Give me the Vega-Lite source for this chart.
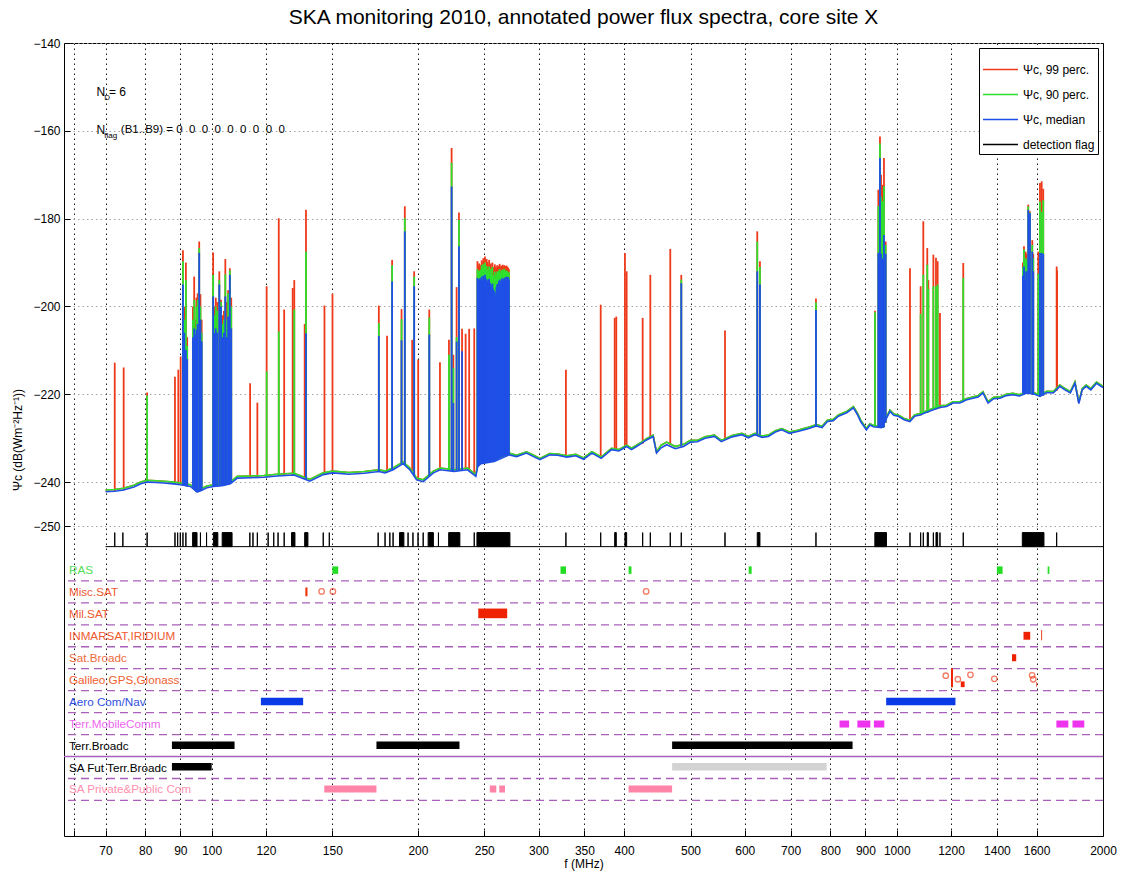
{
  "$schema": "https://vega.github.io/schema/vega-lite/v6.json",
  "width": 1039,
  "height": 793,
  "autosize": {"type": "none"},
  "padding": {"left": 64, "top": 43, "right": 22, "bottom": 36},
  "title": {"text": "SKA monitoring 2010, annotated power flux spectra, core site X", "fontSize": 21, "fontWeight": "normal", "font": "Liberation Sans", "color": "black", "offset": 9},
  "config": {
    "font": "Liberation Sans",
    "view": {"stroke": "black", "strokeWidth": 1},
    "axis": {"labelFont": "Liberation Sans", "labelFontSize": 12, "labelColor": "black", "titleFont": "Liberation Sans", "titleFontSize": 12, "titleFontWeight": "normal", "titleColor": "black", "tickColor": "black", "domain": false},
    "legend": {"orient": "top-right", "offset": 5, "padding": 3, "strokeColor": "black", "fillColor": "white", "symbolType": "stroke", "symbolSize": 1225, "symbolStrokeWidth": 1.5, "labelFontSize": 12, "labelFont": "Liberation Sans", "rowPadding": 0, "labelOffset": 4}
  },
  "datasets": {
    "base": [
      {"f": 70, "m": -242.2, "g": -241.8}, {"f": 72.2, "m": -242.1, "g": -241.7}, {"f": 74.4, "m": -241.8, "g": -241.4},
      {"f": 77.0, "m": -241.1, "g": -240.7}, {"f": 78.8, "m": -240.4, "g": -240.0}, {"f": 80.5, "m": -240.0, "g": -239.6},
      {"f": 83.0, "m": -240.1, "g": -239.7}, {"f": 85.1, "m": -240.2, "g": -239.8}, {"f": 88.0, "m": -240.4, "g": -240.0},
      {"f": 90.1, "m": -240.6, "g": -240.2}, {"f": 93.1, "m": -241.0, "g": -240.6}, {"f": 95.2, "m": -242.2, "g": -241.8},
      {"f": 96.2, "m": -242.0, "g": -241.6}, {"f": 98.4, "m": -241.3, "g": -240.9}, {"f": 100.6, "m": -241.0, "g": -240.6},
      {"f": 103.5, "m": -240.8, "g": -240.4}, {"f": 106.5, "m": -240.4, "g": -240.0}, {"f": 109.0, "m": -239.1, "g": -238.7},
      {"f": 114.0, "m": -239.0, "g": -238.6}, {"f": 119.2, "m": -238.9, "g": -238.5}, {"f": 124.7, "m": -238.6, "g": -238.2},
      {"f": 131.9, "m": -238.4, "g": -238.0}, {"f": 134.5, "m": -238.9, "g": -238.5}, {"f": 139.1, "m": -239.8, "g": -239.4},
      {"f": 145.5, "m": -238.3, "g": -237.9}, {"f": 150.3, "m": -237.9, "g": -237.5}, {"f": 158.6, "m": -238.2, "g": -237.8},
      {"f": 167.0, "m": -238.0, "g": -237.6}, {"f": 175.4, "m": -237.6, "g": -237.2}, {"f": 179.1, "m": -237.9, "g": -237.5},
      {"f": 184.0, "m": -237.2, "g": -236.8}, {"f": 190.3, "m": -235.8, "g": -235.4}, {"f": 194.7, "m": -237.2, "g": -236.8},
      {"f": 199.1, "m": -239.5, "g": -239.1}, {"f": 203.6, "m": -239.9, "g": -239.5}, {"f": 210.7, "m": -237.9, "g": -237.5},
      {"f": 215.6, "m": -237.2, "g": -236.8}, {"f": 225.8, "m": -237.6, "g": -237.2}, {"f": 236.3, "m": -237.2, "g": -236.8},
      {"f": 243.0, "m": -238.7, "g": -238.3}, {"f": 244.5, "m": -236.5, "g": -236.1}, {"f": 247.1, "m": -235.8, "g": -235.4},
      {"f": 258.5, "m": -235.3, "g": -234.9}, {"f": 271.9, "m": -233.8, "g": -233.4}, {"f": 278.7, "m": -234.2, "g": -233.9},
      {"f": 288.1, "m": -233.4, "g": -233.1}, {"f": 295.0, "m": -234.2, "g": -233.9}, {"f": 301.4, "m": -234.9, "g": -234.6},
      {"f": 311.6, "m": -233.8, "g": -233.5}, {"f": 320.0, "m": -233.9, "g": -233.6}, {"f": 330.0, "m": -234.3, "g": -234.0},
      {"f": 340.0, "m": -234.0, "g": -233.7}, {"f": 349.0, "m": -234.8, "g": -234.5}, {"f": 359.0, "m": -233.4, "g": -233.1},
      {"f": 370.4, "m": -234.6, "g": -234.3}, {"f": 383.4, "m": -232.6, "g": -232.3}, {"f": 393.0, "m": -232.9, "g": -232.6},
      {"f": 403.4, "m": -231.9, "g": -231.6}, {"f": 410.0, "m": -232.6, "g": -232.3}, {"f": 417.1, "m": -231.9, "g": -231.6},
      {"f": 424.0, "m": -231.2, "g": -230.9}, {"f": 431.3, "m": -230.4, "g": -230.1}, {"f": 440.9, "m": -229.6, "g": -229.3},
      {"f": 446.0, "m": -233.4, "g": -233.1}, {"f": 453.0, "m": -232.2, "g": -231.6}, {"f": 461.5, "m": -231.5, "g": -230.9},
      {"f": 475.0, "m": -232.4, "g": -231.9}, {"f": 488.4, "m": -231.9, "g": -231.4}, {"f": 500.0, "m": -230.9, "g": -230.5},
      {"f": 511.5, "m": -230.8, "g": -230.5}, {"f": 525.0, "m": -230.0, "g": -229.7}, {"f": 541.8, "m": -229.6, "g": -229.3},
      {"f": 554.5, "m": -230.8, "g": -230.5}, {"f": 575.0, "m": -229.7, "g": -229.4}, {"f": 594.3, "m": -229.2, "g": -228.9},
      {"f": 607.0, "m": -229.9, "g": -229.6}, {"f": 620.9, "m": -229.2, "g": -228.9}, {"f": 636.0, "m": -229.8, "g": -229.5},
      {"f": 649.5, "m": -229.6, "g": -229.3}, {"f": 665.0, "m": -228.6, "g": -228.3}, {"f": 679.4, "m": -228.1, "g": -227.8},
      {"f": 697.0, "m": -228.9, "g": -228.6}, {"f": 716.6, "m": -228.5, "g": -228.2}, {"f": 740.0, "m": -227.9, "g": -227.6},
      {"f": 763.0, "m": -227.2, "g": -226.9}, {"f": 778.0, "m": -227.6, "g": -227.3}, {"f": 792.0, "m": -226.2, "g": -225.9},
      {"f": 808.0, "m": -226.0, "g": -225.7}, {"f": 822.0, "m": -225.0, "g": -224.7}, {"f": 845.0, "m": -224.2, "g": -223.9},
      {"f": 864.5, "m": -223.1, "g": -222.8}, {"f": 876.0, "m": -224.6, "g": -224.3}, {"f": 885.7, "m": -226.2, "g": -225.9},
      {"f": 903.0, "m": -228.1, "g": -227.8}, {"f": 914.0, "m": -227.0, "g": -226.7}, {"f": 925.0, "m": -227.4, "g": -227.1},
      {"f": 950.0, "m": -227.6, "g": -227.3}, {"f": 965.0, "m": -225.6, "g": -225.3}, {"f": 977.4, "m": -223.9, "g": -223.6},
      {"f": 990.0, "m": -224.8, "g": -224.5}, {"f": 1005.0, "m": -225.0, "g": -224.7}, {"f": 1025.0, "m": -225.8, "g": -225.5},
      {"f": 1045.0, "m": -226.2, "g": -225.9}, {"f": 1062.0, "m": -225.0, "g": -224.7}, {"f": 1081.0, "m": -224.7, "g": -224.4},
      {"f": 1105.0, "m": -224.1, "g": -223.8}, {"f": 1131.0, "m": -223.5, "g": -223.2}, {"f": 1155.0, "m": -223.0, "g": -222.6},
      {"f": 1182.0, "m": -222.8, "g": -222.5}, {"f": 1208.0, "m": -222.0, "g": -221.7}, {"f": 1236.0, "m": -222.0, "g": -221.7},
      {"f": 1262.0, "m": -221.3, "g": -221.0}, {"f": 1291.0, "m": -220.9, "g": -220.6}, {"f": 1315.0, "m": -220.6, "g": -220.3},
      {"f": 1336.0, "m": -219.7, "g": -219.4}, {"f": 1359.0, "m": -222.0, "g": -221.7}, {"f": 1385.0, "m": -221.0, "g": -220.7},
      {"f": 1414.6, "m": -220.9, "g": -220.6}, {"f": 1445.0, "m": -220.3, "g": -220.0}, {"f": 1477.0, "m": -220.1, "g": -219.8},
      {"f": 1510.0, "m": -220.4, "g": -220.1}, {"f": 1549.0, "m": -219.7, "g": -219.4}, {"f": 1590.0, "m": -220.0, "g": -219.7},
      {"f": 1618.0, "m": -220.5, "g": -220.2}, {"f": 1655.0, "m": -219.6, "g": -219.3}, {"f": 1692.0, "m": -219.7, "g": -219.4},
      {"f": 1730.0, "m": -218.2, "g": -217.9}, {"f": 1760.0, "m": -219.0, "g": -218.7}, {"f": 1792.0, "m": -219.7, "g": -219.4},
      {"f": 1820.0, "m": -217.5, "g": -217.2}, {"f": 1844.0, "m": -222.1, "g": -221.8}, {"f": 1865.0, "m": -219.0, "g": -218.7},
      {"f": 1890.0, "m": -218.2, "g": -217.9}, {"f": 1920.0, "m": -219.0, "g": -218.7}, {"f": 1957.0, "m": -217.5, "g": -217.2},
      {"f": 2000.0, "m": -218.5, "g": -218.2}
    ],
    "spikes": [
      {"f": 72.2, "r": -212.8, "b": -242.1}, {"f": 74.4, "r": -213.9, "b": -241.8},
      {"f": 80.5, "r": -219.6, "g": -220.3, "b": -240.0},
      {"f": 88.4, "r": -216.0, "b": -240.4}, {"f": 89.4, "r": -214.4, "b": -240.5}, {"f": 90.1, "r": -211.4, "b": -240.6},
      {"f": 90.8, "r": -187.2, "g": -189.7, "m": -195.0, "b": -240.7},
      {"f": 91.2, "r": -200.0, "g": -203.0, "m": -206.0, "b": -240.8},
      {"f": 91.7, "r": -190.0, "g": -194.0, "m": -209.9, "b": -240.9},
      {"f": 92.1, "r": -207.0, "g": -209.0, "m": -212.0, "b": -241.0},
      {"f": 93.9, "r": -200.0, "g": -203.0, "m": -207.0, "b": -241.6},
      {"f": 94.3, "r": -193.2, "g": -198.5, "m": -205.0, "b": -241.8},
      {"f": 94.7, "r": -203.0, "g": -205.0, "m": -206.5, "b": -242.0},
      {"f": 95.0, "r": -198.0, "g": -200.0, "m": -205.3, "b": -242.2},
      {"f": 95.4, "r": -197.0, "g": -198.5, "m": -204.0, "b": -242.3},
      {"f": 95.9, "r": -185.2, "g": -186.7, "m": -187.8, "b": -242.1},
      {"f": 96.3, "r": -197.2, "g": -200.0, "m": -203.0, "b": -242.0},
      {"f": 96.7, "r": -203.0, "g": -206.0, "m": -208.0, "b": -241.9},
      {"f": 100.5, "r": -187.7, "g": -192.8, "m": -197.7, "b": -241.0},
      {"f": 100.9, "r": -200.0, "g": -202.0, "m": -206.0, "b": -241.0},
      {"f": 101.4, "r": -198.0, "g": -200.0, "m": -205.0, "b": -240.9},
      {"f": 101.9, "r": -199.0, "g": -201.0, "m": -206.0, "b": -240.9},
      {"f": 102.6, "r": -192.0, "g": -194.0, "m": -195.0, "b": -240.9},
      {"f": 103.2, "r": -198.5, "g": -199.0, "m": -200.0, "b": -240.8},
      {"f": 103.7, "r": -202.0, "g": -204.0, "m": -207.0, "b": -240.8},
      {"f": 104.2, "r": -201.0, "g": -203.0, "m": -206.0, "b": -240.7},
      {"f": 104.7, "r": -189.2, "g": -192.7, "m": -197.7, "b": -240.7},
      {"f": 105.2, "r": -199.0, "g": -203.0, "m": -207.0, "b": -240.6},
      {"f": 105.7, "r": -196.3, "g": -197.0, "m": -202.3, "b": -240.5},
      {"f": 106.3, "r": -191.3, "g": -191.8, "m": -192.8, "b": -240.4},
      {"f": 106.8, "r": -198.0, "g": -200.0, "m": -205.0, "b": -240.2},
      {"f": 113.8, "r": -217.5, "b": -239.0}, {"f": 116.6, "r": -221.9, "b": -239.0},
      {"f": 120.3, "r": -195.4, "g": -214.8, "b": -238.9},
      {"f": 125.3, "r": -179.9, "g": -205.7, "b": -238.6},
      {"f": 127.6, "r": -200.7, "b": -238.5}, {"f": 131.3, "r": -195.8, "b": -238.4},
      {"f": 132.0, "r": -194.0, "g": -200.7, "b": -238.5},
      {"f": 136.7, "r": -204.0, "b": -239.3},
      {"f": 137.3, "r": -178.0, "g": -187.5, "m": -206.1, "b": -239.4},
      {"f": 146.1, "r": -199.8, "b": -238.3}, {"f": 150.1, "r": -197.1, "b": -237.9},
      {"f": 175.4, "r": -199.8, "g": -203.8, "m": -206.7, "b": -237.6},
      {"f": 180.3, "r": -206.7, "b": -237.8},
      {"f": 183.4, "r": -189.4, "g": -190.6, "m": -194.3, "b": -237.3},
      {"f": 189.3, "r": -200.6, "g": -202.9, "m": -207.7, "b": -236.0},
      {"f": 191.4, "r": -177.2, "g": -179.9, "m": -182.9, "b": -236.0},
      {"f": 196.2, "r": -207.6, "b": -237.8},
      {"f": 197.5, "r": -192.0, "g": -193.2, "m": -195.4, "b": -238.5},
      {"f": 200.2, "r": -212.1, "b": -239.6},
      {"f": 207.8, "r": -200.7, "g": -202.5, "m": -206.4, "b": -238.6},
      {"f": 215.4, "r": -212.7, "b": -237.2},
      {"f": 222.0, "r": -207.6, "g": -211.0, "b": -237.4},
      {"f": 224.0, "r": -163.9, "g": -167.3, "m": -172.7, "b": -237.5},
      {"f": 225.3, "r": -211.0, "g": -214.0, "m": -222.0, "b": -237.6},
      {"f": 227.8, "r": -195.6, "g": -207.0, "m": -208.0, "b": -237.5},
      {"f": 229.6, "r": -178.6, "g": -180.3, "m": -186.3, "b": -237.4},
      {"f": 232.0, "r": -205.1, "m": -210.2, "b": -237.3},
      {"f": 234.8, "r": -206.2, "b": -237.2}, {"f": 237.6, "r": -205.1, "b": -237.5}, {"f": 241.7, "r": -205.0, "b": -238.3},
      {"f": 244.3, "r": -189.7, "g": -191.5, "m": -193.5, "b": -236.6},
      {"f": 245.0, "r": -190.8, "g": -192.0, "m": -193.8, "b": -236.3},
      {"f": 245.7, "r": -190.2, "g": -191.8, "m": -194.0, "b": -236.1},
      {"f": 246.4, "r": -191.0, "g": -192.4, "m": -193.6, "b": -236.0},
      {"f": 247.1, "r": -190.5, "g": -191.6, "m": -193.9, "b": -235.8},
      {"f": 247.8, "r": -189.5, "g": -190.6, "m": -193.2, "b": -235.8},
      {"f": 248.5, "r": -190.0, "g": -191.2, "m": -194.1, "b": -235.7},
      {"f": 249.2, "r": -189.0, "g": -190.3, "m": -193.0, "b": -235.7},
      {"f": 249.9, "r": -189.6, "g": -191.0, "m": -193.4, "b": -235.6},
      {"f": 250.6, "r": -188.6, "g": -190.0, "m": -192.8, "b": -235.6},
      {"f": 251.3, "r": -190.4, "g": -191.3, "m": -193.6, "b": -235.5},
      {"f": 252.0, "r": -189.2, "g": -190.8, "m": -193.9, "b": -235.5},
      {"f": 252.7, "r": -189.9, "g": -191.6, "m": -194.4, "b": -235.5},
      {"f": 253.4, "r": -190.6, "g": -192.2, "m": -194.0, "b": -235.4},
      {"f": 254.1, "r": -189.4, "g": -190.9, "m": -193.7, "b": -235.4},
      {"f": 254.8, "r": -190.9, "g": -192.5, "m": -194.6, "b": -235.4},
      {"f": 255.5, "r": -190.2, "g": -191.4, "m": -195.0, "b": -235.3},
      {"f": 256.2, "r": -191.3, "g": -192.7, "m": -195.5, "b": -235.3},
      {"f": 256.9, "r": -190.0, "g": -191.0, "m": -194.8, "b": -235.3},
      {"f": 257.6, "r": -191.0, "g": -192.9, "m": -196.0, "b": -235.3},
      {"f": 258.3, "r": -191.6, "g": -193.0, "m": -196.5, "b": -235.3},
      {"f": 259.0, "r": -190.4, "g": -192.1, "m": -196.8, "b": -235.1},
      {"f": 259.7, "r": -190.9, "g": -193.4, "m": -197.5, "b": -235.0},
      {"f": 260.4, "r": -191.2, "g": -192.6, "m": -195.6, "b": -234.9},
      {"f": 261.1, "r": -190.6, "g": -192.0, "m": -194.9, "b": -234.8},
      {"f": 261.8, "r": -191.5, "g": -193.1, "m": -195.2, "b": -234.7},
      {"f": 262.5, "r": -190.8, "g": -191.9, "m": -194.3, "b": -234.6},
      {"f": 263.2, "r": -190.3, "g": -191.5, "m": -193.9, "b": -234.5},
      {"f": 263.9, "r": -191.1, "g": -192.4, "m": -194.7, "b": -234.4},
      {"f": 264.6, "r": -190.7, "g": -192.0, "m": -194.1, "b": -234.3},
      {"f": 265.3, "r": -190.9, "g": -191.7, "m": -193.6, "b": -234.2},
      {"f": 266.0, "r": -190.5, "g": -191.6, "m": -193.8, "b": -234.2},
      {"f": 266.7, "r": -191.0, "g": -192.1, "m": -194.2, "b": -234.1},
      {"f": 267.4, "r": -190.6, "g": -191.4, "m": -193.5, "b": -234.0},
      {"f": 268.1, "r": -190.8, "g": -191.9, "m": -193.4, "b": -234.0},
      {"f": 268.8, "r": -191.4, "g": -192.3, "m": -193.9, "b": -233.9},
      {"f": 269.5, "r": -190.7, "g": -191.8, "m": -193.2, "b": -233.9},
      {"f": 270.2, "r": -191.0, "g": -192.0, "m": -193.6, "b": -233.9},
      {"f": 270.9, "r": -191.2, "g": -192.4, "m": -193.3, "b": -233.8},
      {"f": 271.6, "r": -191.5, "g": -192.2, "m": -193.8, "b": -233.8},
      {"f": 328.9, "r": -214.4, "b": -234.3}, {"f": 369.7, "r": -199.6, "b": -234.6},
      {"f": 387.5, "r": -202.6, "b": -232.6}, {"f": 389.6, "r": -202.3, "b": -232.5},
      {"f": 401.1, "r": -187.8, "b": -232.0}, {"f": 403.4, "r": -192.0, "b": -231.9},
      {"f": 425.7, "r": -202.6, "b": -231.3}, {"f": 436.8, "r": -192.8, "b": -229.9},
      {"f": 467.1, "r": -186.9, "b": -231.6},
      {"f": 484.7, "r": -192.8, "g": -193.9, "m": -194.7, "b": -231.9},
      {"f": 561.4, "r": -205.5, "b": -230.3},
      {"f": 625.7, "r": -182.9, "g": -185.2, "m": -192.0, "b": -229.2},
      {"f": 631.4, "r": -189.7, "g": -191.0, "m": -195.0, "b": -229.2},
      {"f": 762.2, "r": -198.2, "g": -199.1, "m": -200.8, "b": -227.3},
      {"f": 929.4, "r": -201.0, "g": -201.3, "b": -227.4},
      {"f": 939.9, "r": -173.4, "g": -177.1, "m": -187.8, "b": -227.5},
      {"f": 942.5, "r": -180.0, "g": -185.0, "m": -190.0, "b": -227.5},
      {"f": 945.1, "r": -161.3, "g": -162.9, "m": -166.2, "b": -227.6},
      {"f": 948.5, "r": -170.0, "g": -175.0, "m": -188.0, "b": -227.6},
      {"f": 952.2, "r": -172.3, "g": -176.0, "m": -189.4, "b": -227.6},
      {"f": 955.0, "r": -175.0, "g": -180.0, "m": -189.0, "b": -227.6},
      {"f": 957.9, "r": -166.2, "g": -172.6, "m": -183.7, "b": -227.5},
      {"f": 963.3, "r": -185.2, "g": -186.0, "m": -188.0, "b": -226.5},
      {"f": 1045.4, "r": -191.3, "b": -226.2},
      {"f": 1083.6, "r": -195.4, "g": -201.7, "b": -224.8},
      {"f": 1093.3, "r": -180.6, "g": -192.8, "b": -224.5},
      {"f": 1108.0, "r": -186.7, "g": -190.5, "b": -224.2},
      {"f": 1112.0, "r": -194.0, "g": -196.0, "b": -224.1},
      {"f": 1130.9, "r": -188.2, "g": -195.4, "b": -223.5},
      {"f": 1140.9, "r": -188.9, "g": -195.4, "b": -223.4},
      {"f": 1147.3, "r": -189.7, "g": -195.0, "b": -223.3},
      {"f": 1156.3, "r": -201.5, "b": -223.2},
      {"f": 1250.4, "r": -190.1, "g": -193.5, "b": -221.8},
      {"f": 1528.0, "r": -190.0, "g": -191.0, "m": -193.0, "b": -219.8},
      {"f": 1533.5, "r": -186.3, "g": -187.0, "m": -190.9, "b": -219.8},
      {"f": 1538.0, "r": -189.0, "g": -190.0, "m": -192.0, "b": -219.8},
      {"f": 1542.0, "r": -187.5, "g": -189.0, "m": -194.0, "b": -219.7},
      {"f": 1548.0, "r": -188.0, "g": -189.5, "m": -192.0, "b": -219.7},
      {"f": 1555.7, "r": -176.8, "g": -177.2, "m": -178.0, "b": -219.7},
      {"f": 1560.0, "r": -185.0, "g": -187.0, "m": -190.0, "b": -219.8},
      {"f": 1564.6, "r": -178.3, "g": -178.6, "m": -178.8, "b": -219.8},
      {"f": 1576.8, "r": -184.9, "g": -186.0, "m": -187.5, "b": -220.0},
      {"f": 1582.1, "r": -188.0, "g": -189.0, "m": -192.0, "b": -220.0},
      {"f": 1609.0, "r": -187.5, "g": -192.5, "b": -220.4},
      {"f": 1618.2, "r": -171.9, "g": -176.1, "m": -187.8, "b": -220.5},
      {"f": 1627.5, "r": -171.5, "g": -178.5, "m": -187.8, "b": -220.4},
      {"f": 1636.0, "r": -173.2, "g": -175.8, "m": -188.0, "b": -220.3},
      {"f": 1711.5, "r": -190.9, "b": -219.2}, {"f": 1714.0, "r": -191.8, "b": -219.1}
    ],
    "flags": [
      {"f1": 72.2, "f2": 72.2}, {"f1": 74.2, "f2": 74.2}, {"f1": 80.5, "f2": 80.5}, {"f1": 88.4, "f2": 88.4},
      {"f1": 89.2, "f2": 89.2}, {"f1": 90.0, "f2": 90.0}, {"f1": 90.8, "f2": 90.8}, {"f1": 91.7, "f2": 91.7},
      {"f1": 93.8, "f2": 95.2}, {"f1": 96.3, "f2": 96.3}, {"f1": 98.3, "f2": 98.3}, {"f1": 100.6, "f2": 102.1},
      {"f1": 103.6, "f2": 107.1}, {"f1": 113.7, "f2": 113.7}, {"f1": 114.9, "f2": 114.9}, {"f1": 116.6, "f2": 116.6},
      {"f1": 120.9, "f2": 120.9}, {"f1": 123.2, "f2": 123.2}, {"f1": 125.0, "f2": 125.0}, {"f1": 127.6, "f2": 127.6},
      {"f1": 130.8, "f2": 132.3}, {"f1": 136.7, "f2": 138.2}, {"f1": 145.5, "f2": 145.5}, {"f1": 148.5, "f2": 148.5},
      {"f1": 175.0, "f2": 175.0}, {"f1": 179.1, "f2": 179.1}, {"f1": 182.0, "f2": 182.0}, {"f1": 184.0, "f2": 184.0},
      {"f1": 188.0, "f2": 190.8}, {"f1": 193.5, "f2": 193.5}, {"f1": 196.7, "f2": 196.7}, {"f1": 200.1, "f2": 200.1},
      {"f1": 203.6, "f2": 203.6}, {"f1": 207.0, "f2": 210.7}, {"f1": 214.3, "f2": 214.3}, {"f1": 221.8, "f2": 230.3},
      {"f1": 241.7, "f2": 241.7}, {"f1": 243.9, "f2": 272.5}, {"f1": 328.9, "f2": 328.9}, {"f1": 369.7, "f2": 369.7},
      {"f1": 387.5, "f2": 389.6}, {"f1": 401.1, "f2": 403.4}, {"f1": 425.7, "f2": 425.7}, {"f1": 436.8, "f2": 436.8},
      {"f1": 467.1, "f2": 467.1}, {"f1": 484.7, "f2": 484.7}, {"f1": 561.4, "f2": 561.4}, {"f1": 625.7, "f2": 631.4},
      {"f1": 762.2, "f2": 762.2}, {"f1": 929.0, "f2": 966.0}, {"f1": 1045.4, "f2": 1045.4}, {"f1": 1083.6, "f2": 1083.6},
      {"f1": 1093.3, "f2": 1093.3}, {"f1": 1108.0, "f2": 1112.0}, {"f1": 1130.9, "f2": 1130.9}, {"f1": 1140.9, "f2": 1147.3},
      {"f1": 1156.3, "f2": 1156.3}, {"f1": 1250.4, "f2": 1250.4}, {"f1": 1525.0, "f2": 1640.0}, {"f1": 1711.5, "f2": 1711.5}
    ],
    "seps": [
      {"y": -262.5, "k": "d"}, {"y": -267.5, "k": "d"}, {"y": -272.5, "k": "d"}, {"y": -277.5, "k": "d"},
      {"y": -282.5, "k": "d"}, {"y": -287.5, "k": "d"}, {"y": -292.5, "k": "d"}, {"y": -297.5, "k": "d"},
      {"y": -302.5, "k": "s"}, {"y": -307.5, "k": "d"}, {"y": -312.5, "k": "d"}
    ],
    "labels": [
      {"f": 61.9, "v": -260, "t": "RAS", "c": "#55dd55"},
      {"f": 61.9, "v": -265, "t": "Misc.SAT", "c": "#ee5a35"},
      {"f": 61.9, "v": -270, "t": "Mil.SAT", "c": "#ee5a30"},
      {"f": 61.9, "v": -275, "t": "INMARSAT,IRIDIUM", "c": "#ee5a30"},
      {"f": 61.9, "v": -280, "t": "Sat.Broadc", "c": "#ee6a40"},
      {"f": 61.9, "v": -285, "t": "Galileo,GPS,Glonass", "c": "#ee6030"},
      {"f": 61.9, "v": -290, "t": "Aero Com/Nav", "c": "#3050e0"},
      {"f": 61.9, "v": -295, "t": "Terr.MobileComm", "c": "#ee66ee"},
      {"f": 61.9, "v": -300, "t": "Terr.Broadc", "c": "#000000"},
      {"f": 61.9, "v": -305, "t": "SA Fut Terr.Broadc", "c": "#000000"},
      {"f": 61.9, "v": -310, "t": "SA Private&Public Com", "c": "#ff90b0"}
    ],
    "bars": [
      {"f1": 150.05, "f2": 153, "y1": -259.2, "y2": -260.9, "c": "#22dd22"},
      {"f1": 323, "f2": 329, "y1": -259.2, "y2": -260.9, "c": "#22dd22"},
      {"f1": 406.1, "f2": 410, "y1": -259.2, "y2": -260.9, "c": "#22dd22"},
      {"f1": 608, "f2": 614, "y1": -259.2, "y2": -260.9, "c": "#22dd22"},
      {"f1": 1400, "f2": 1427, "y1": -259.2, "y2": -260.9, "c": "#22dd22"},
      {"f1": 1610.6, "f2": 1613.8, "y1": -259.2, "y2": -260.9, "c": "#aaeeaa"},
      {"f1": 1660.5, "f2": 1670, "y1": -259.2, "y2": -260.9, "c": "#22dd22"},
      {"f1": 137, "f2": 138, "y1": -264.0, "y2": -266.0, "c": "#ee3311"},
      {"f1": 245, "f2": 270, "y1": -268.8, "y2": -271.0, "c": "#ee2200"},
      {"f1": 1531, "f2": 1566, "y1": -274.1, "y2": -275.9, "c": "#ee2200"},
      {"f1": 1624, "f2": 1630, "y1": -273.7, "y2": -276.0, "c": "#ee5533"},
      {"f1": 1473, "f2": 1494, "y1": -279.2, "y2": -280.8, "c": "#ee2200"},
      {"f1": 1200, "f2": 1208, "y1": -282.4, "y2": -286.7, "c": "#ee2200"},
      {"f1": 1240, "f2": 1256, "y1": -285.4, "y2": -286.7, "c": "#ee2200"},
      {"f1": 1598, "f2": 1603, "y1": -285.5, "y2": -286.6, "c": "#ee5533"},
      {"f1": 118, "f2": 136, "y1": -289.1, "y2": -290.8, "c": "#0a3ae6"},
      {"f1": 965, "f2": 1218, "y1": -289.1, "y2": -290.8, "c": "#0a3ae6"},
      {"f1": 825, "f2": 852, "y1": -294.3, "y2": -295.9, "c": "#ee33ee"},
      {"f1": 876, "f2": 915, "y1": -294.3, "y2": -295.9, "c": "#ee33ee"},
      {"f1": 926, "f2": 959, "y1": -294.3, "y2": -295.9, "c": "#ee33ee"},
      {"f1": 1710, "f2": 1780, "y1": -294.3, "y2": -295.9, "c": "#ee33ee"},
      {"f1": 1805, "f2": 1878, "y1": -294.3, "y2": -295.9, "c": "#ee33ee"},
      {"f1": 87.5, "f2": 108, "y1": -299.1, "y2": -300.8, "c": "#000000"},
      {"f1": 174, "f2": 230, "y1": -299.1, "y2": -300.8, "c": "#000000"},
      {"f1": 470, "f2": 862, "y1": -299.1, "y2": -300.8, "c": "#000000"},
      {"f1": 87.5, "f2": 100, "y1": -304.0, "y2": -305.7, "c": "#000000"},
      {"f1": 470, "f2": 790, "y1": -304.0, "y2": -305.7, "c": "#d3d3d3"},
      {"f1": 146, "f2": 174, "y1": -309.1, "y2": -310.7, "c": "#ff85a8"},
      {"f1": 254.7, "f2": 260.3, "y1": -309.1, "y2": -310.7, "c": "#ff85a8"},
      {"f1": 262.9, "f2": 268, "y1": -309.1, "y2": -310.7, "c": "#ff85a8"},
      {"f1": 406, "f2": 470, "y1": -309.1, "y2": -310.7, "c": "#ff85a8"}
    ],
    "circs": [
      {"f": 144.7, "v": -264.9}, {"f": 150.3, "v": -264.9}, {"f": 430.7, "v": -264.9},
      {"f": 1179, "v": -284.1}, {"f": 1228, "v": -284.9}, {"f": 1281, "v": -283.9},
      {"f": 1388, "v": -284.8}, {"f": 1576, "v": -284.0}, {"f": 1582, "v": -284.9}
    ],
    "notes": [
      {"f": 67.9, "v": -151.25, "t": "N", "s": 12},
      {"f": 69.7, "v": -152.6, "t": "D", "s": 8},
      {"f": 70.8, "v": -151.25, "t": "= 6", "s": 12},
      {"f": 67.9, "v": -159.75, "t": "N", "s": 12},
      {"f": 69.7, "v": -161.1, "t": "flag", "s": 8},
      {"f": 73.7, "v": -159.75, "t": "(B1..B9) = 0\u00a0 0\u00a0 0\u00a0 0\u00a0 0\u00a0 0\u00a0 0\u00a0 0\u00a0 0", "s": 11.5}
    ]
  },
  "layer": [
    {
      "data": {"name": "base"},
      "mark": {"type": "line", "strokeWidth": 1.6, "interpolate": "linear"},
      "encoding": {
        "x": {"field": "f", "type": "quantitative", "title": "f (MHz)",
          "scale": {"type": "log", "domain": [60.88, 2000], "nice": false},
          "axis": {"values": [63, 70, 80, 90, 100, 120, 150, 200, 250, 300, 350, 400, 500, 600, 700, 800, 900, 1000, 1200, 1400, 1600, 2000],
            "labelExpr": "datum.value < 65 ? '' : format(datum.value, 'd')",
            "tickSize": -6, "tickWidth": 1, "labelPadding": 15, "titlePadding": 2,
            "grid": true, "gridColor": "#000000", "gridDash": [1.5, 3.5], "gridOpacity": 0.9, "gridWidth": 1, "labelFlush": false, "labelOverlap": false}},
        "y": {"field": "g", "type": "quantitative", "title": "Ψc (dB(Wm⁻²Hz⁻¹))",
          "scale": {"domain": [-320.6, -140], "nice": false, "zero": false},
          "axis": {"values": [-140, -160, -180, -200, -220, -240, -250], "tickSize": -6, "labelPadding": 10, "titlePadding": 8,
            "grid": true, "gridColor": "#999999", "gridDash": [1.5, 3], "gridOpacity": 0.9}},
        "color": {"datum": "Ψc, 99 perc.",
          "scale": {"domain": ["Ψc, 99 perc.", "Ψc, 90 perc.", "Ψc, median", "detection flag"], "range": ["#ee3a1a", "#2ee02e", "#1f4fe6", "#000000"]},
          "legend": {"title": null}}
      }
    },
    {
      "data": {"name": "spikes"},
      "mark": {"type": "rule", "strokeWidth": 1.8, "strokeCap": "butt"},
      "encoding": {
        "x": {"field": "f", "type": "quantitative", "title": "f (MHz)"},
        "y": {"field": "b", "type": "quantitative", "title": "Ψc (dB(Wm⁻²Hz⁻¹))"},
        "y2": {"field": "r"},
        "color": {"datum": "Ψc, 99 perc."}
      }
    },
    {
      "data": {"name": "base"},
      "mark": {"type": "line", "strokeWidth": 1.6},
      "encoding": {
        "x": {"field": "f", "type": "quantitative", "title": "f (MHz)"},
        "y": {"field": "g", "type": "quantitative", "title": "Ψc (dB(Wm⁻²Hz⁻¹))"},
        "color": {"datum": "Ψc, 90 perc."}
      }
    },
    {
      "data": {"name": "spikes"},
      "transform": [{"filter": "isValid(datum.g)"}],
      "mark": {"type": "rule", "strokeWidth": 1.8, "strokeCap": "butt"},
      "encoding": {
        "x": {"field": "f", "type": "quantitative", "title": "f (MHz)"},
        "y": {"field": "b", "type": "quantitative", "title": "Ψc (dB(Wm⁻²Hz⁻¹))"},
        "y2": {"field": "g"},
        "color": {"datum": "Ψc, 90 perc."}
      }
    },
    {
      "data": {"name": "base"},
      "mark": {"type": "line", "strokeWidth": 1.6},
      "encoding": {
        "x": {"field": "f", "type": "quantitative", "title": "f (MHz)"},
        "y": {"field": "m", "type": "quantitative", "title": "Ψc (dB(Wm⁻²Hz⁻¹))"},
        "color": {"datum": "Ψc, median"}
      }
    },
    {
      "data": {"name": "spikes"},
      "transform": [{"filter": "isValid(datum.m)"}],
      "mark": {"type": "rule", "strokeWidth": 1.8, "strokeCap": "butt"},
      "encoding": {
        "x": {"field": "f", "type": "quantitative", "title": "f (MHz)"},
        "y": {"field": "b", "type": "quantitative", "title": "Ψc (dB(Wm⁻²Hz⁻¹))"},
        "y2": {"field": "m"},
        "color": {"datum": "Ψc, median"}
      }
    },
    {
      "data": {"values": [{"f1": 70, "f2": 2000, "y": -254.7}]},
      "mark": {"type": "rule", "strokeWidth": 1},
      "encoding": {
        "x": {"field": "f1", "type": "quantitative", "title": "f (MHz)"},
        "x2": {"field": "f2"},
        "y": {"field": "y", "type": "quantitative", "title": "Ψc (dB(Wm⁻²Hz⁻¹))"},
        "color": {"datum": "detection flag"}
      }
    },
    {
      "data": {"name": "flags"},
      "mark": {"type": "rect", "stroke": "#000000", "strokeWidth": 1},
      "encoding": {
        "x": {"field": "f1", "type": "quantitative", "title": "f (MHz)"},
        "x2": {"field": "f2"},
        "y": {"datum": -254.7, "type": "quantitative", "title": "Ψc (dB(Wm⁻²Hz⁻¹))"},
        "y2": {"datum": -251.5},
        "color": {"datum": "detection flag"}
      }
    },
    {
      "data": {"name": "seps"},
      "transform": [{"filter": "datum.k == 'd'"}],
      "mark": {"type": "rule", "stroke": "#a860b8", "strokeWidth": 1.3, "strokeDash": [8, 5]},
      "encoding": {"y": {"field": "y", "type": "quantitative", "title": "Ψc (dB(Wm⁻²Hz⁻¹))"}}
    },
    {
      "data": {"name": "seps"},
      "transform": [{"filter": "datum.k == 's'"}],
      "mark": {"type": "rule", "stroke": "#a860b8", "strokeWidth": 1.5},
      "encoding": {"y": {"field": "y", "type": "quantitative", "title": "Ψc (dB(Wm⁻²Hz⁻¹))"}}
    },
    {
      "data": {"name": "bars"},
      "mark": {"type": "rect"},
      "encoding": {
        "x": {"field": "f1", "type": "quantitative", "title": "f (MHz)"},
        "x2": {"field": "f2"},
        "y": {"field": "y1", "type": "quantitative", "title": "Ψc (dB(Wm⁻²Hz⁻¹))"},
        "y2": {"field": "y2"},
        "fill": {"field": "c", "type": "nominal", "scale": null}
      }
    },
    {
      "data": {"name": "circs"},
      "mark": {"type": "point", "shape": "circle", "filled": false, "stroke": "#ee4422", "strokeWidth": 1.3, "size": 30},
      "encoding": {
        "x": {"field": "f", "type": "quantitative", "title": "f (MHz)"},
        "y": {"field": "v", "type": "quantitative", "title": "Ψc (dB(Wm⁻²Hz⁻¹))"}
      }
    },
    {
      "data": {"name": "labels"},
      "mark": {"type": "text", "align": "left", "baseline": "middle", "fontSize": 11.7, "font": "Liberation Sans"},
      "encoding": {
        "x": {"field": "f", "type": "quantitative", "title": "f (MHz)"},
        "y": {"field": "v", "type": "quantitative", "title": "Ψc (dB(Wm⁻²Hz⁻¹))"},
        "text": {"field": "t"},
        "fill": {"field": "c", "type": "nominal", "scale": null}
      }
    },
    {
      "data": {"name": "notes"},
      "mark": {"type": "text", "align": "left", "baseline": "middle", "font": "Liberation Sans", "color": "black"},
      "encoding": {
        "x": {"field": "f", "type": "quantitative", "title": "f (MHz)"},
        "y": {"field": "v", "type": "quantitative", "title": "Ψc (dB(Wm⁻²Hz⁻¹))"},
        "text": {"field": "t"},
        "size": {"field": "s", "type": "quantitative", "scale": null}
      }
    }
  ]
}
